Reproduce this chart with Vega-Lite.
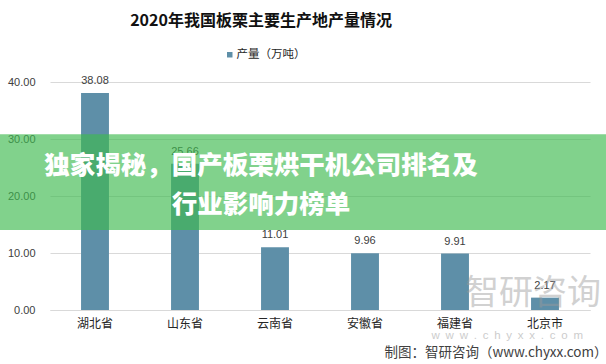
{
  "$schema": "https://vega.github.io/schema/vega-lite/v6.json",
  "autosize": {"type": "none"},
  "width": 540,
  "height": 228,
  "padding": {"left": 50, "top": 82, "right": 16, "bottom": 54},
  "background": "#ffffff",
  "title": {
    "text": "2020年我国板栗主要生产地产量情况",
    "anchor": "middle",
    "dx": -59,
    "offset": 20,
    "fontSize": 16,
    "fontWeight": "bold",
    "font": "Noto Sans CJK SC",
    "color": "#111111"
  },
  "datasets": {
    "main": [
      {"province": "湖北省", "value": 38.08, "series": "产量（万吨）"},
      {"province": "山东省", "value": 25.66, "series": "产量（万吨）"},
      {"province": "云南省", "value": 11.01, "series": "产量（万吨）"},
      {"province": "安徽省", "value": 9.96, "series": "产量（万吨）"},
      {"province": "福建省", "value": 9.91, "series": "产量（万吨）"},
      {"province": "北京市", "value": 2.17, "series": "产量（万吨）"}
    ],
    "band": [{"y0": 14.02, "y1": 30.85, "label": "独家揭秘，国产板栗烘干机公司排名及\n行业影响力榜单", "ymid": 25.2}],
    "mark": [{"text": "智研咨询", "pos": 2.8, "place": "北京市"}],
    "site": [{"text": "w\u2002w\u2002w\u2002.\u2002c\u2002h\u2002y\u2002x\u2002x\u2002.\u2002c\u2002o\u2002m", "pos": -4.6, "place": "北京市"}]
  },
  "layer": [
    {
      "data": {"name": "main"},
      "mark": {"type": "bar"},
      "encoding": {
        "x": {
          "field": "province", "type": "nominal", "sort": null,
          "scale": {"domain": ["湖北省", "山东省", "云南省", "安徽省", "福建省", "北京市"], "paddingInner": 0.69, "paddingOuter": 0.345},
          "axis": {
            "title": "制图：智研咨询（www.chyxx.com）",
            "titleAlign": "right", "titleX": 557, "titleY": 42,
            "titleBaseline": "middle", "titleFontSize": 13.5, "titleFontWeight": "normal",
            "titleColor": "#404040", "titleFont": "Noto Sans CJK SC",
            "labelAngle": 0, "labelFontSize": 12, "labelColor": "#262626", "labelFont": "Noto Sans CJK SC",
            "labelPadding": 8, "ticks": false, "domainColor": "#d9d9d9", "grid": false
          }
        },
        "y": {
          "field": "value", "type": "quantitative",
          "scale": {"domain": [0, 40], "nice": false},
          "axis": {
            "title": null, "values": [0, 5, 10, 15, 20, 25, 30, 35, 40], "format": ".2f",
            "labelFontSize": 11, "labelColor": "#404040", "labelFont": "Liberation Sans", "labelPadding": 15,
            "ticks": false, "domain": false, "gridColor": "#d9d9d9"
          }
        },
        "color": {
          "field": "series", "type": "nominal",
          "scale": {"range": ["#5e8fa8"]},
          "legend": {
            "title": null, "orient": "none", "legendX": 174, "legendY": -33,
            "symbolType": "square", "symbolSize": 30, "labelFontSize": 11.5,
            "labelFont": "Noto Sans CJK SC", "labelColor": "#262626", "labelOffset": 1
          }
        }
      }
    },
    {
      "data": {"name": "main"},
      "mark": {"type": "text", "baseline": "bottom", "dy": -7, "fontSize": 11, "font": "Liberation Sans", "color": "#404040"},
      "encoding": {
        "x": {"field": "province", "type": "nominal", "sort": null},
        "y": {"field": "value", "type": "quantitative"},
        "text": {"field": "value", "type": "quantitative", "format": ".2f"}
      }
    },
    {
      "data": {"name": "mark"},
      "mark": {"type": "text", "fontSize": 34, "font": "Noto Sans CJK SC", "color": "#9a9a9a", "opacity": 0.45, "dx": -12, "baseline": "middle"},
      "encoding": {
        "x": {"field": "place", "type": "nominal", "sort": null},
        "y": {"field": "pos", "type": "quantitative"},
        "text": {"field": "text"}
      }
    },
    {
      "data": {"name": "site"},
      "mark": {"type": "text", "fontSize": 11.5, "font": "Liberation Sans", "color": "#9a9a9a", "opacity": 0.5, "dx": 38, "align": "right", "baseline": "middle"},
      "encoding": {
        "x": {"field": "place", "type": "nominal", "sort": null},
        "y": {"field": "pos", "type": "quantitative"},
        "text": {"field": "text"}
      }
    },
    {
      "data": {"name": "band"},
      "mark": {"type": "rect", "color": "#3dba4f", "opacity": 0.65},
      "encoding": {
        "x": {"datum": "湖北省", "bandPosition": -2.905},
        "x2": {"datum": "北京市", "bandPosition": 2.686},
        "y": {"field": "y0", "type": "quantitative"},
        "y2": {"field": "y1"}
      }
    },
    {
      "data": {"name": "band"},
      "mark": {"type": "text", "lineBreak": "\n", "lineHeight": 39, "fontSize": 25.5, "fontWeight": 900, "font": "Noto Sans CJK SC", "color": "#ffffff", "align": "center", "baseline": "middle", "dx": -59},
      "encoding": {
        "y": {"field": "ymid", "type": "quantitative"},
        "text": {"field": "label"}
      }
    }
  ],
  "config": {"view": {"stroke": null}}
}
